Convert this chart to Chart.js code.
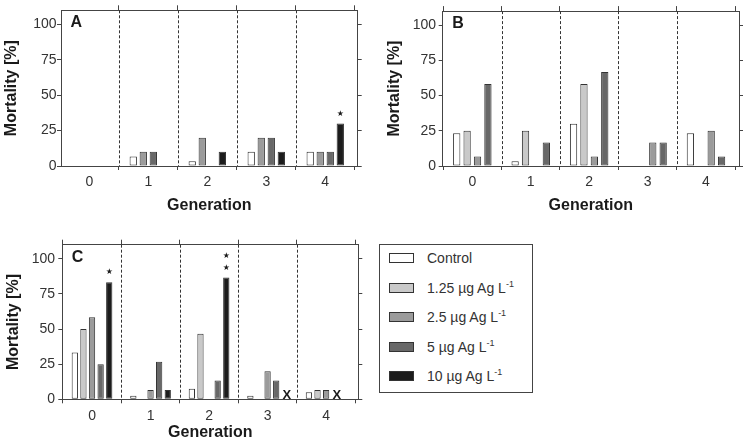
<!DOCTYPE html>
<html><head><meta charset="utf-8">
<script src="https://cdn.jsdelivr.net/npm/chart.js@4.4.0/dist/chart.umd.min.js"></script>
<style>
body{margin:0;background:#fff;width:749px;height:447px;position:relative;overflow:hidden;font-family:"Liberation Sans",Arial,sans-serif;}
canvas{position:absolute;}
#legend{position:absolute;left:379px;top:244px;width:152px;height:147px;border:1px solid #444;}
.row{position:absolute;left:0;height:16px;line-height:16px;white-space:nowrap;}
.sw{position:absolute;left:9px;top:3px;width:23px;height:8px;border:1px solid #333;}
.lt{position:absolute;left:47px;top:0;font-size:14px;color:#333;}
.lt sup{font-size:9px;vertical-align:0;position:relative;top:-6px;}
</style></head>
<body>
<canvas id="cA" width="370" height="215" style="left:0;top:0"></canvas>
<canvas id="cB" width="374" height="215" style="left:375px;top:0"></canvas>
<canvas id="cC" width="370" height="214" style="left:0;top:233px"></canvas>
<div id="legend"></div>
<script>
// ---------- data ----------
const generations = [0, 1, 2, 3, 4];
const yTicks = [0, 25, 50, 75, 100];
const separators = [0.5, 1.5, 2.5, 3.5];
const legendLabels = ['Control', '1.25 µg Ag L', '2.5 µg Ag L', '5 µg Ag L', '10 µg Ag L'];
const legendSup = ['', '-1', '-1', '-1', '-1'];

// Panel A (Control, 2.5, 5, 10 µg Ag/L)
const aControl = [0, 6.7, 3.3, 10, 10];
const a2_5 = [0, 10, 20, 20, 10];
const a5 = [0, 10, 0, 20, 10];
const a10 = [0, 0, 10, 10, 30];
// Panel B (Control, 1.25, 2.5, 5 µg Ag/L)
const bControl = [23.3, 3.3, 30, 0, 23.3];
const b1_25 = [25, 25, 58.3, 0, 0];
const b2_5 = [6.7, 0, 6.7, 16.7, 25];
const b5 = [58.3, 16.7, 66.7, 16.7, 6.7];
// Panel C (all five)
const cControl = [33.3, 2.5, 7.5, 2.5, 5];
const c1_25 = [50, 0, 46.7, 0, 6.7];
const c2_5 = [58.3, 6.7, 0, 20, 6.7];
const c5 = [25, 26.7, 13.3, 13.3, null];
const c10 = [83.3, 6.7, 86.7, null, null];

// significance stars and missing-data marks: [dataset index, generation, count]
const aStars = [[3, 4, 1]];
const cStars = [[4, 0, 1], [4, 2, 2]];
const cMissing = [[4, 3], [3, 4]];

// ---------- style ----------
const FONT = '"Liberation Sans", Arial, sans-serif';
const colors = ['#ffffff', '#c9c9c9', '#9b9b9b', '#686868', '#1c1c1c'];
const AXIS = '#444';

// legend
const lg = document.getElementById('legend');
legendLabels.forEach((t, i) => {
  const r = document.createElement('div');
  r.className = 'row';
  r.style.top = (13 + i * 29.6 - 8) + 'px';
  r.innerHTML = '<div class="sw" style="background:' + colors[i] + '"></div><div class="lt"></div>';
  const lt = r.querySelector('.lt');
  lt.textContent = t;
  if (legendSup[i]) { const s = document.createElement('sup'); s.textContent = legendSup[i]; lt.appendChild(s); }
  lg.appendChild(r);
});

const deco = {
  id: 'deco',
  beforeDatasetsDraw(chart, args, o) {
    const {ctx, chartArea: ca, scales: {x}} = chart;
    ctx.save();
    ctx.strokeStyle = '#333'; ctx.lineWidth = 1; ctx.setLineDash([3, 2]);
    separators.forEach(s => {
      const px = Math.round(x.getPixelForValue(s)) + 0.5;
      ctx.beginPath(); ctx.moveTo(px, ca.top); ctx.lineTo(px, ca.bottom); ctx.stroke();
    });
    ctx.restore();
  },
  afterDatasetsDraw(chart, args, o) {
    const {ctx, chartArea: ca, scales: {y}} = chart;
    ctx.save();
    ctx.fillStyle = '#1a1a1a';
    ctx.font = 'bold 16px ' + FONT;
    ctx.textAlign = 'left'; ctx.textBaseline = 'alphabetic';
    ctx.fillText(o.letter, ca.left + 9.5, ca.top + 17);
    ctx.font = '8px "DejaVu Sans"';
    ctx.textAlign = 'center'; ctx.textBaseline = 'middle';
    (o.stars || []).forEach(([d, g, n]) => {
      const el = chart.getDatasetMeta(d).data[g];
      for (let k = 0; k < n; k++) ctx.fillText('★', el.x, el.y - 10 - k * 11.5);
    });
    ctx.font = 'bold 13px ' + FONT;
    ctx.textBaseline = 'alphabetic';
    (o.missing || []).forEach(([d, g]) => {
      const el = chart.getDatasetMeta(d).data[g];
      ctx.fillText('X', el.x + 2, y.getPixelForValue(0) - 0.5);
    });
    ctx.restore();
  }
};

function makeChart(id, series, cfg) {
  const canvas = document.getElementById(id);
  const W = canvas.width, H = canvas.height;
  const tickFont = {family: FONT, size: 14};
  const titleFont = {family: FONT, size: 16, weight: 'bold'};
  const setTicks = vals => s => { s.ticks = vals.map(v => ({value: v})); };
  const grid = len => ({display: true, drawOnChartArea: false, drawTicks: true, tickLength: len, color: AXIS, lineWidth: 1});
  const border = {display: true, color: AXIS, width: 1};
  return new Chart(canvas, {
    type: 'bar',
    data: {
      labels: generations,
      datasets: series.map(([data, ci]) => ({
        data: data, backgroundColor: colors[ci], borderColor: '#333', borderWidth: 1, borderSkipped: false
      }))
    },
    options: {
      responsive: false, animation: false, devicePixelRatio: 1,
      layout: {padding: 0},
      categoryPercentage: cfg.cat, barPercentage: cfg.bar,
      plugins: {legend: {display: false}, tooltip: {enabled: false}, deco: cfg.deco},
      scales: {
        x: {type: 'linear', position: 'bottom', min: cfg.xMin, max: cfg.xMax, offset: false,
          afterBuildTicks: setTicks(generations),
          afterFit: s => { s.height = H - cfg.bottom; },
          grid: grid(4), border: border,
          ticks: {font: tickFont, color: '#333', padding: 4, maxRotation: 0, autoSkip: false},
          title: {display: true, text: 'Generation', font: titleFont, color: '#1a1a1a', padding: {top: 0, bottom: cfg.xTitlePad}}},
        x2: {type: 'linear', position: 'top', min: cfg.xMin, max: cfg.xMax, offset: false,
          afterBuildTicks: setTicks(generations),
          afterFit: s => { s.height = cfg.top; },
          grid: grid(5), border: border, ticks: {display: false}},
        y: {type: 'linear', position: 'left', min: 0, max: 110,
          afterBuildTicks: setTicks(yTicks),
          afterFit: s => { s.width = cfg.left; },
          grid: grid(4), border: border,
          ticks: {font: tickFont, color: '#333', padding: cfg.yTickPad},
          title: {display: true, text: 'Mortality [%]', font: titleFont, color: '#1a1a1a', padding: {top: cfg.yTitlePad, bottom: 0}}},
        y2: {type: 'linear', position: 'right', min: 0, max: 110,
          afterBuildTicks: setTicks(yTicks),
          afterFit: s => { s.width = W - cfg.right; },
          grid: grid(4), border: border, ticks: {display: false}}
      }
    },
    plugins: [deco]
  });
}

makeChart('cA', [[aControl, 0], [a2_5, 2], [a5, 3], [a10, 4]], {
  left: 61, right: 357.7, top: 10.3, bottom: 166, xMin: -0.48, xMax: 4.55,
  cat: 0.68, bar: 0.73, yTickPad: 0.5, yTitlePad: 2, xTitlePad: 0,
  deco: {letter: 'A', stars: aStars}
});
makeChart('cB', [[bControl, 0], [b1_25, 1], [b2_5, 2], [b5, 3]], {
  left: 67.7, right: 364, top: 10.3, bottom: 166, xMin: -0.507, xMax: 4.565,
  cat: 0.712, bar: 0.70, yTickPad: 2.7, yTitlePad: 9.6, xTitlePad: 0,
  deco: {letter: 'B'}
});
makeChart('cC', [[cControl, 0], [c1_25, 1], [c2_5, 2], [c5, 3], [c10, 4]], {
  left: 62.3, right: 358.3, top: 10.3, bottom: 166.3, xMin: -0.508, xMax: 4.55,
  cat: 0.735, bar: 0.73, yTickPad: 3.3, yTitlePad: 3.7, xTitlePad: 5.3,
  deco: {letter: 'C', stars: cStars, missing: cMissing}
});
</script>
</body></html>
